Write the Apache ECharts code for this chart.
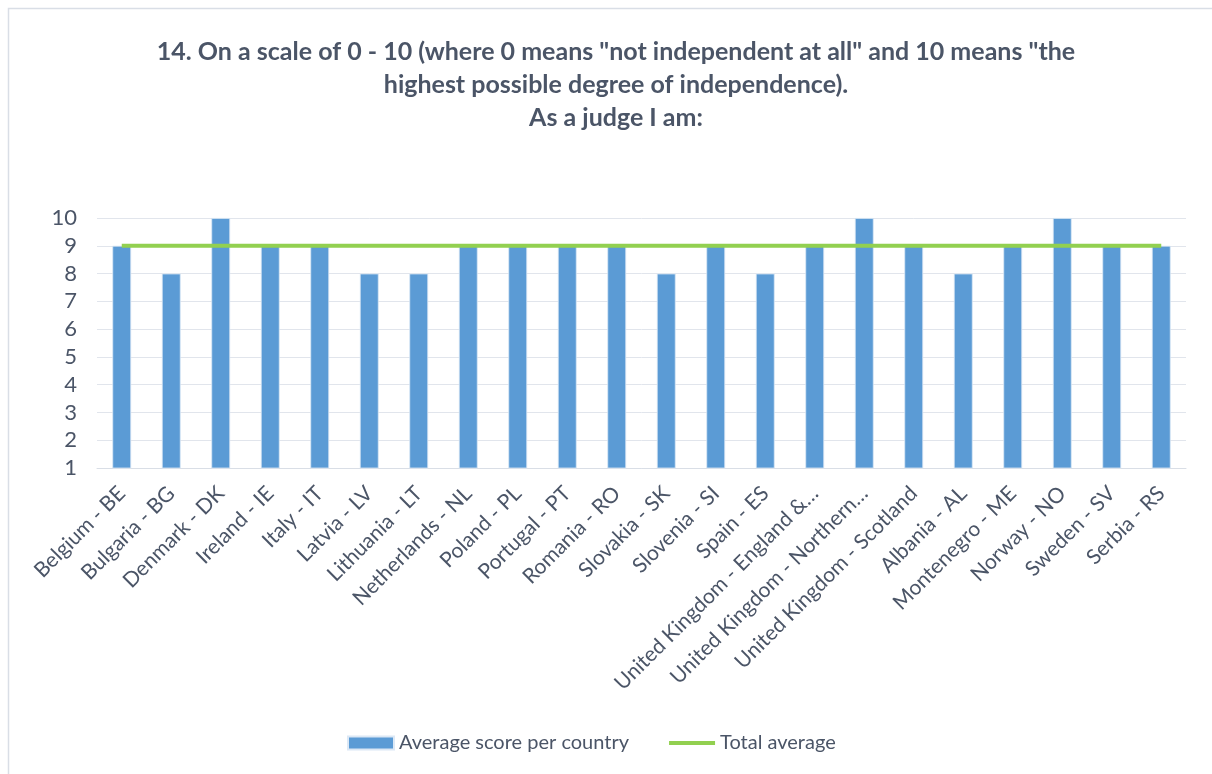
<!DOCTYPE html>
<html>
<head>
<meta charset="utf-8">
<script src="https://cdn.jsdelivr.net/npm/echarts@6/dist/echarts.min.js"></script>
<style>
  html, body { margin: 0; padding: 0; background: #ffffff; }
  #chart { width: 1212px; height: 774px; }
</style>
</head>
<body>
<div id="chart"></div>
<script>
// Countries / jurisdictions surveyed
const countries = [
  'Belgium - BE', 'Bulgaria - BG', 'Denmark - DK', 'Ireland - IE', 'Italy - IT',
  'Latvia - LV', 'Lithuania - LT', 'Netherlands - NL', 'Poland - PL', 'Portugal - PT',
  'Romania - RO', 'Slovakia - SK', 'Slovenia - SI', 'Spain - ES',
  'United Kingdom - England &…', 'United Kingdom - Northern…', 'United Kingdom - Scotland',
  'Albania - AL', 'Montenegro - ME', 'Norway - NO', 'Sweden - SV', 'Serbia - RS'
];

// Average self-assessed independence score per country
const averageScore = [9, 8, 10, 9, 9, 8, 8, 9, 9, 9, 9, 8, 9, 8, 9, 10, 9, 8, 9, 10, 9, 9];

// Overall average across all respondents
const totalAverage = [9, 9, 9, 9, 9, 9, 9, 9, 9, 9, 9, 9, 9, 9, 9, 9, 9, 9, 9, 9, 9, 9];

const seriesNames = ['Average score per country', 'Total average'];

const titleLines = [
  '14. On a scale of 0 - 10 (where 0 means "not independent at all" and 10 means "the',
  'highest possible degree of independence).',
  'As a judge I am:'
];

const textColor = '#4B5567';
const fontFamily = 'Lato, "Open Sans", sans-serif';
const barColor = '#5B9BD5';
const lineColor = '#92D050';

const chart = echarts.init(document.getElementById('chart'));

chart.setOption({
  backgroundColor: '#ffffff',
  animation: false,
  graphic: [{
    type: 'rect',
    shape: { x: 8.5, y: 8.5, width: 1220, height: 780 },
    style: { fill: 'none', stroke: '#D9DEE6', lineWidth: 1.5 },
    silent: true
  }],
  title: {
    text: titleLines.join('\n'),
    left: 611,
    top: 30,
    textAlign: 'center',
    textStyle: {
      color: textColor,
      fontFamily: fontFamily,
      fontWeight: 'bold',
      fontSize: 25,
      lineHeight: 33
    }
  },
  legend: {
    data: [
      { name: seriesNames[0], icon: 'rect' },
      {
        name: seriesNames[1],
        itemStyle: { color: 'rgba(0,0,0,0)', borderWidth: 0, opacity: 0 },
        lineStyle: { color: lineColor, width: 4 }
      }
    ],
    left: 342,
    top: 728,
    itemWidth: 46,
    itemHeight: 13,
    itemGap: 38,
    textStyle: {
      color: textColor,
      fontFamily: fontFamily,
      fontSize: 20
    }
  },
  grid: {
    left: 97,
    right: 26,
    top: 218,
    bottom: 306
  },
  xAxis: {
    type: 'category',
    data: countries,
    axisLine: { lineStyle: { color: '#D9DEE6', width: 1 } },
    axisTick: { show: false },
    axisLabel: {
      interval: 0,
      rotate: 45,
      margin: 22,
      color: textColor,
      fontFamily: fontFamily,
      fontSize: 21
    }
  },
  yAxis: {
    type: 'value',
    min: 1,
    max: 10,
    interval: 1,
    axisLine: { show: false },
    axisTick: { show: false },
    splitLine: { lineStyle: { color: '#E1E5EC', width: 1 } },
    axisLabel: {
      margin: 20,
      color: textColor,
      fontFamily: fontFamily,
      fontSize: 22
    }
  },
  series: [
    {
      name: seriesNames[0],
      type: 'bar',
      data: averageScore,
      barWidth: '38%',
      itemStyle: {
        color: barColor,
        borderColor: '#DCE8F5',
        borderWidth: 0.8
      }
    },
    {
      name: seriesNames[1],
      type: 'line',
      data: totalAverage,
      symbol: 'none',
      showSymbol: false,
      lineStyle: { color: lineColor, width: 4 },
      itemStyle: { color: lineColor }
    }
  ]
});
</script>
</body>
</html>
